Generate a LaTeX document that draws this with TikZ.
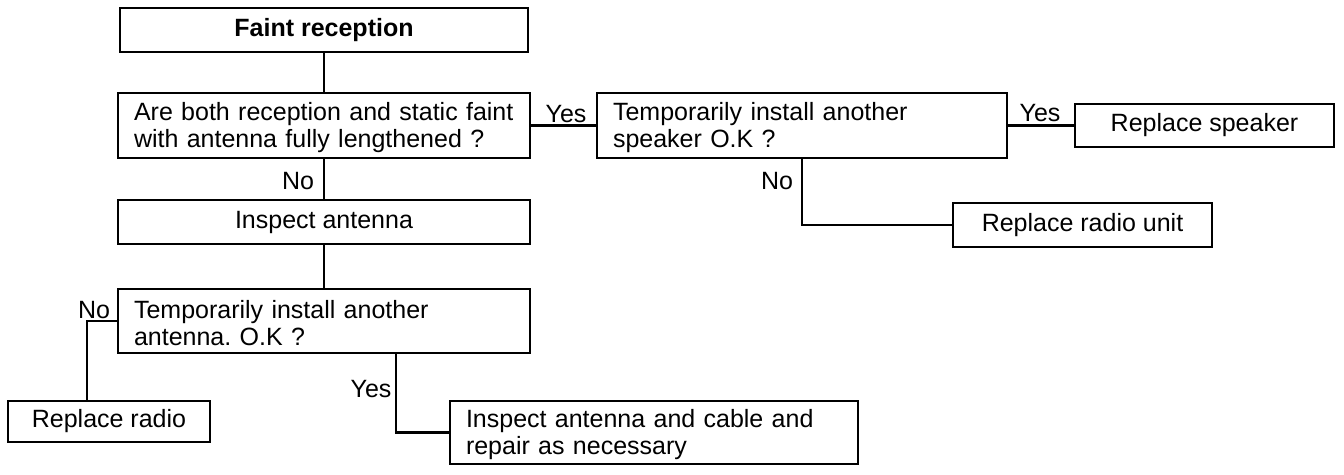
\documentclass[tikz,border=0pt]{standalone}
\usepackage{fontspec}
\setmainfont{Liberation Sans}
\frenchspacing
\begin{document}
\begin{tikzpicture}[x=1pt,y=-1pt,
  txt/.style={font=\fontsize{25}{27.5}\selectfont},
  box/.style={txt, draw, line width=2.8pt, inner sep=0pt, anchor=center},
  cbox/.style={box, align=center},
  lbox/.style={box, align=left, inner xsep=16pt, inner ysep=0pt},
  lab/.style={txt, inner sep=0pt},
  conn/.style={line width=2.8pt}]
\useasboundingbox[fill=white] (0,0) rectangle (1344,474);
\node[cbox, minimum width=408pt, minimum height=44pt] (b1) at (324,30) {\bfseries Faint reception};
\node[lbox, text width=380pt, minimum width=412pt, minimum height=65pt] (b2) at (324,125.5)
  {\rule{0pt}{22pt}Are both reception and static faint\\with antenna fully lengthened ?};
\node[lbox, text width=378pt, minimum width=410pt, minimum height=65pt] (b3) at (802,125.5)
  {\rule{0pt}{22pt}Temporarily install another\\speaker O.K ?};
\node[cbox, minimum width=259pt, minimum height=43pt] (b4) at (1204.5,125.5) {Replace speaker};
\node[cbox, minimum width=259pt, minimum height=44pt] (b5) at (1082.5,225) {Replace radio unit};
\node[cbox, minimum width=412pt, minimum height=44pt] (b6) at (324,222) {Inspect antenna};
\node[lbox, text width=380pt, minimum width=412pt, minimum height=64pt] (b7) at (324,321)
  {\rule{0pt}{22pt}Temporarily install another\\antenna. O.K ?};
\node[cbox, minimum width=202pt, minimum height=41pt] (b8) at (109,421.5) {Replace radio};
\node[lbox, text width=376pt, minimum width=408pt, minimum height=63pt] (b9) at (654,432.5)
  {\rule{0pt}{22pt}Inspect antenna and cable and\\repair as necessary};
\coordinate (c8) at ([xshift=-22pt]b8.north);
\coordinate (c7) at ([xshift=72pt]b7.south);
\draw[conn] (b1.south) -- (b2.north);
\draw[conn] (b2.east) -- (b3.west);
\draw[conn] (b3.east) -- (b4.west);
\draw[conn] (b3.south) |- (b5.west);
\draw[conn] (b2.south) -- (b6.north);
\draw[conn] (b6.south) -- (b7.north);
\draw[conn] (b7.west) -| (c8);
\draw[conn] (c7) |- (b9.west);
\node[lab] (y1) at (566,114) {Yes};
\node[lab] (y2) at (1040,113.5) {Yes};
\node[lab] (n1) at (298,181.5) {No};
\node[lab] (n2) at (777,181) {No};
\node[lab] (n3) at (94,310) {No};
\node[lab] (y3) at (371,389) {Yes};
\end{tikzpicture}
\end{document}
